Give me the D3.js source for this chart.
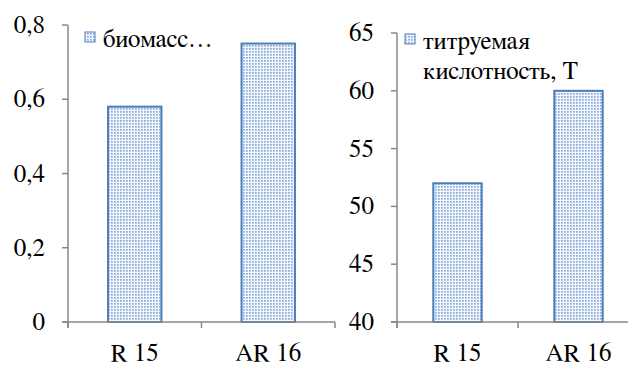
<!DOCTYPE html>
<html><head><meta charset="utf-8">
<script src="https://cdn.jsdelivr.net/npm/d3@7/dist/d3.min.js"></script>
</head>
<body style="margin:0">
<svg id="chart" width="628" height="365"></svg>
<script>
const categories = ["R 15", "AR 16"];
const biomass = [0.58, 0.75];
const acidity = [52, 60];
const biomassTicks = [0, 0.2, 0.4, 0.6, 0.8];
const acidityTicks = [40, 45, 50, 55, 60, 65];
const biomassLegend = ["биомасс…"];
const acidityLegend = ["титруемая", "кислотность, Т"];

const FONT = "FreeSerif, 'Liberation Serif', Tinos, 'Times New Roman', serif";
const fontSize = "25px";
const svg = d3.select("#chart");
const defs = svg.append("defs");
const pat = defs.append("pattern").attr("id","dots").attr("patternUnits","userSpaceOnUse")
  .attr("width",3).attr("height",3);
pat.append("rect").attr("width",3).attr("height",3).attr("fill","#f4f7fc");
pat.append("rect").attr("x",0).attr("y",0).attr("width",2).attr("height",2).attr("fill","#b3c8e9");
pat.append("rect").attr("x",0).attr("y",0).attr("width",1).attr("height",1).attr("fill","#86a6da");

const axisColor = "#898989";
const barStroke = "#4a7ebb";
const fmtComma = d => d === 0 ? "0" : d3.format(".1f")(d).replace(".", ",");

function addText(x, y, str, anchor) {
  return svg.append("text").attr("x", x).attr("y", y)
    .attr("text-anchor", anchor || "start")
    .style("font-family", FONT).style("font-size", fontSize)
    .text(str);
}

function panel(cfg) {
  const y = d3.scaleLinear().domain(cfg.domain).range([cfg.y0, cfg.y1]);
  const xb = d3.scaleBand().domain(categories).range([cfg.x0, cfg.x1]).padding(0);
  const xbar = d3.scaleBand().domain(categories).range([cfg.x0, cfg.x1])
      .paddingInner(0.6).paddingOuter(0.3);

  cfg.values.forEach((v, i) => {
    svg.append("rect")
      .attr("x", xbar(categories[i]))
      .attr("width", xbar.bandwidth())
      .attr("y", y(v))
      .attr("height", y(cfg.domain[0]) - y(v))
      .attr("fill", "url(#dots)")
      .attr("stroke", barStroke).attr("stroke-width", 2);
  });

  svg.append("line").attr("x1",cfg.x0).attr("x2",cfg.x0)
    .attr("y1",y(cfg.domain[1])).attr("y2",cfg.y0+6)
    .attr("stroke",axisColor).attr("stroke-width",1.5);
  cfg.ticks.forEach(t => {
    svg.append("line").attr("x1",cfg.x0-6).attr("x2",cfg.x0)
      .attr("y1",y(t)).attr("y2",y(t))
      .attr("stroke",axisColor).attr("stroke-width",1.5);
    addText(cfg.x0 - 23, y(t) + 8, cfg.fmt(t), "end");
  });

  svg.append("line").attr("x1",cfg.x0-6).attr("x2",cfg.x1)
    .attr("y1",cfg.y0).attr("y2",cfg.y0)
    .attr("stroke",axisColor).attr("stroke-width",1.5);
  const bounds = categories.map(c=>xb(c)).concat([xb(categories[categories.length-1])+xb.step()]);
  bounds.forEach(b => {
    svg.append("line").attr("x1",b).attr("x2",b).attr("y1",cfg.y0).attr("y2",cfg.y0+6)
      .attr("stroke",axisColor).attr("stroke-width",1.5);
  });
  categories.forEach(c => addText(xb(c) + xb.bandwidth()/2, 361, c, "middle"));

  svg.append("rect").attr("x",cfg.lx).attr("y",cfg.ly).attr("width",10).attr("height",10)
    .attr("fill","url(#dots)").attr("stroke",barStroke).attr("stroke-width",1);
  cfg.legend.forEach((l, i) => addText(cfg.lx + 18, cfg.ly + 15 + i*30, l));
}

panel({domain:[0,0.8], values:biomass, ticks:biomassTicks, fmt:fmtComma,
  x0:68, x1:335, y0:322, y1:25, lx:85, ly:32, legend:biomassLegend});
panel({domain:[40,65], values:acidity, ticks:acidityTicks, fmt:d3.format("d"),
  x0:397, x1:639, y0:322, y1:33, lx:405, ly:34, legend:acidityLegend});
</script>
</body></html>
